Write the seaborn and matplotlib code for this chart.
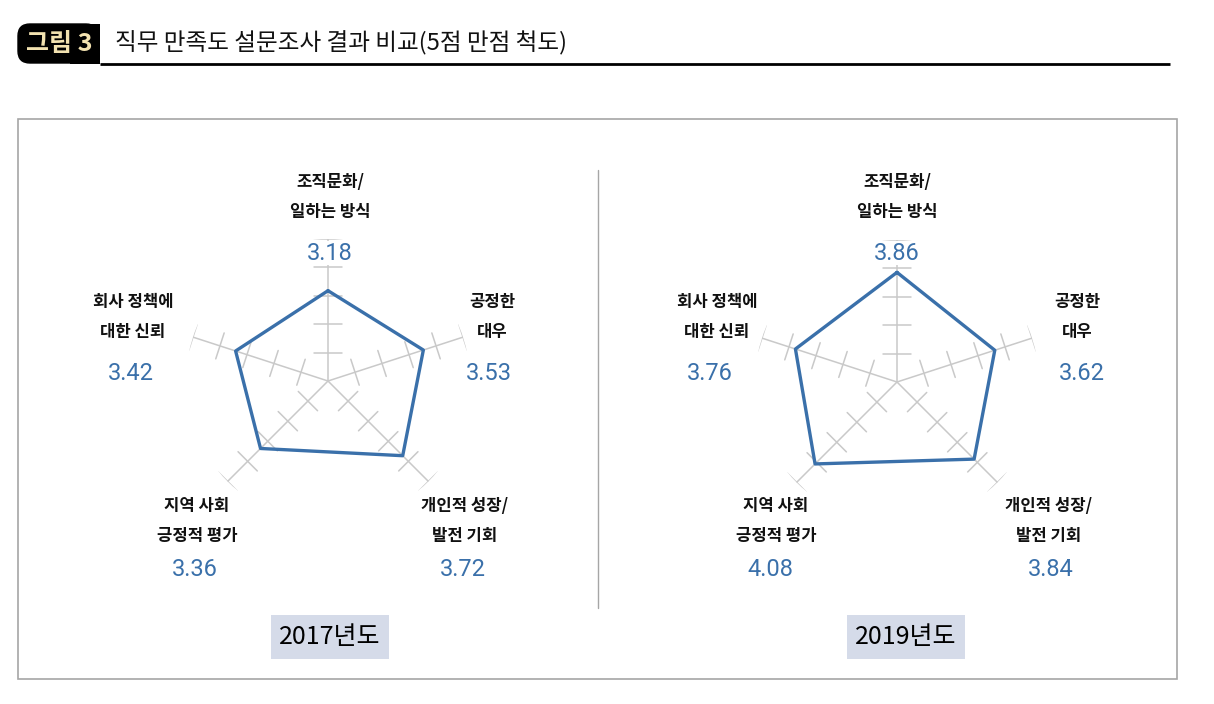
import numpy as np
import pandas as pd
import matplotlib
matplotlib.use('Agg')
import matplotlib.pyplot as plt
from matplotlib.patches import Rectangle, FancyBboxPatch
import seaborn as sns

# data
categories = ['조직문화/\n일하는 방식', '공정한\n대우', '개인적 성장/\n발전 기회', '지역 사회\n긍정적 평가', '회사 정책에\n대한 신뢰']
axis_deg = [0, 72, 135, 225, 288]   # spoke directions, clockwise from top
years = ['2017년도', '2019년도']
scores_2017 = [3.18, 3.53, 3.72, 3.36, 3.42]
scores_2019 = [3.86, 3.62, 3.84, 4.08, 3.76]
scale_max = 5

sns.set_theme(style='white')
plt.rcParams['font.family'] = ['Noto Sans CJK KR', 'DejaVu Sans']

W, H = 1214, 704
fig = plt.figure(figsize=(W / 100, H / 100), dpi=100)

# background axes in pixel coords for frame / titles / labels
bg = fig.add_axes([0, 0, 1, 1])
bg.set_xlim(0, W)
bg.set_ylim(H, 0)
bg.axis('off')
bg.patch.set_alpha(0)
bg.set_zorder(2)

# title
bg.add_patch(FancyBboxPatch((18, 24), 80, 39, boxstyle='round,pad=0,rounding_size=12',
                            fc='black', ec='black', lw=1))
bg.add_patch(Rectangle((70, 23.5), 30, 40, fc='black', ec='none'))
bg.text(59, 44, '그림 3', color='#f2e2b0', fontsize=18, fontweight='bold', ha='center', va='center')
bg.plot([100, 1170], [63.5, 63.5], color='black', lw=2, solid_capstyle='butt')
bg.text(115, 43, '직무 만족도 설문조사 결과 비교(5점 만점 척도)', fontsize=17, fontweight='medium',
        ha='left', va='center', color='#111111')

# outer frame and divider
bg.add_patch(Rectangle((18, 119), 1159, 560, fc='none', ec='#a6a6a6', lw=1.2))
bg.plot([598, 598], [170, 608], color='#a6a6a6', lw=1)

blue = '#3a70aa'
grey = '#c9c9c9'
radius_px = 142
centers = [(328, 381), (897, 382)]

# label placement per panel: (x, y of first line, value x)
label_pos = [
    [(330, 182, 330), (492, 302, 489), (465, 506, 463), (197, 506, 195), (133, 302, 131)],
    [(897, 182, 897), (1077, 302, 1082), (1049, 506, 1051), (776, 506, 770), (717, 302, 710)],
]
value_y = [253, 373, 569, 569, 373]
year_boxes = [(271, 389), (847, 965)]

angles = np.deg2rad(axis_deg)

for i, scores in enumerate([scores_2017, scores_2019]):
    cx, cy = centers[i]
    ax = fig.add_axes([(cx - radius_px) / W, (H - cy - radius_px) / H,
                       2 * radius_px / W, 2 * radius_px / H], projection='polar')
    ax.set_zorder(1)
    ax.set_theta_zero_location('N')
    ax.set_theta_direction(-1)
    ax.set_ylim(0, scale_max)
    ax.grid(False)
    ax.set_xticks([])
    ax.set_yticks([])
    ax.spines['polar'].set_visible(False)
    ax.patch.set_alpha(0)

    # spokes with perpendicular tick marks
    h = 0.48
    for th in angles:
        ax.plot([th, th], [0, scale_max], color=grey, lw=1.1, zorder=1)
        for k in range(1, scale_max + 1):
            re = np.hypot(k, h)
            dth = np.arctan(h / k)
            ax.plot([th - dth, th + dth], [re, re], color=grey, lw=1.1, zorder=1)

    df = pd.DataFrame({'theta': np.append(angles, angles[0]),
                       'score': scores + [scores[0]]})
    sns.lineplot(data=df, x='theta', y='score', sort=False, estimator=None,
                 color=blue, lw=2.4, ax=ax, zorder=3)
    ax.set_xlabel('')
    ax.set_ylabel('')

    for j, cat in enumerate(categories):
        lx, ly, vx = label_pos[i][j]
        l1, l2 = cat.split('\n')
        bg.text(lx, ly, l1, fontsize=12, fontweight='bold', ha='center', va='center', color='#111111')
        bg.text(lx, ly + 30, l2, fontsize=12, fontweight='bold', ha='center', va='center', color='#111111')
        bg.text(vx, value_y[j], f'{scores[j]:.2f}', fontsize=17, family=['Roboto', 'DejaVu Sans'],
                ha='center', va='center', color=blue,
                bbox=dict(fc='white', ec='none', pad=0.5) if j == 0 else None)

    x0, x1 = year_boxes[i]
    bg.add_patch(Rectangle((x0, 615), x1 - x0, 44, fc='#d5dbe9', ec='none'))
    bg.text((x0 + x1) / 2, 637, years[i], fontsize=18, ha='center', va='center', color='black')

fig.savefig('out.png', dpi=100)
